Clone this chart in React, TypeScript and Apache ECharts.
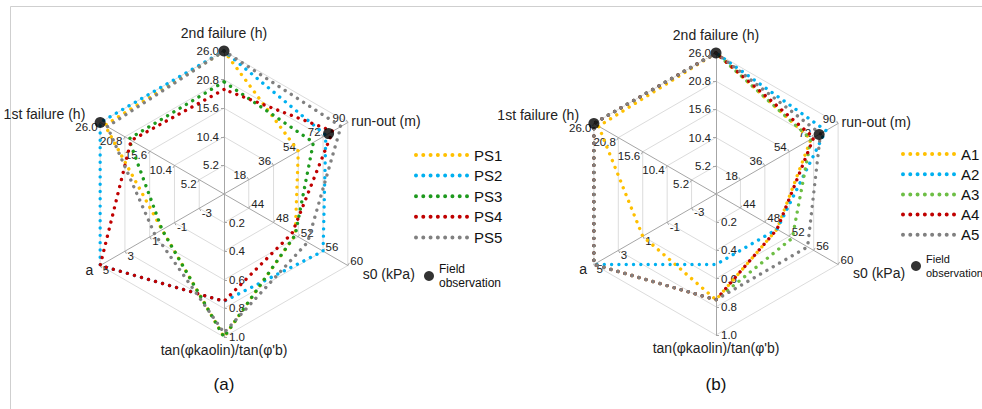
import React, { useEffect, useRef } from "react";
import * as echarts from "echarts";

// Indicators in counter-clockwise order starting at the top
const indicatorNames = ["2nd failure (h)", "1st failure (h)", "a", "tan(φkaolin)/tan(φ'b)", "s0 (kPa)", "run-out (m)"];
const indicatorMin = [0, 0, -5, 0, 40, 0];
const indicatorMax = [26, 26, 5, 1, 60, 90];
const labelDecimals = [1, 1, 0, 1, 0, 0];
const nameGaps = [11, 3, 8, 6, 5, 4];

// Panel (a)
const namesA = ["PS1", "PS2", "PS3", "PS4", "PS5"];
const PS1 = [26, 25, 0, 1.0, 51.5, 54];
const PS2 = [26, 26, 5, 0.75, 56, 74];
const PS3 = [20.4, 20, 0, 1.0, 51.5, 65];
const PS4 = [19, 19.5, 5, 0.75, 51, 79];
const PS5 = [26, 24.5, 0.6, 0.97, 53.5, 85];
const valuesA = [PS1, PS2, PS3, PS4, PS5];
const colorsA = ["#FFC000", "#00B0F0", "#1E9A1E", "#C00000", "#808080"];

// Panel (b)
const namesB = ["A1", "A2", "A3", "A4", "A5"];
const A1 = [26, 25, 1, 0.75, 50, 70];
const A2 = [26, 26, 5, 0.5, 50, 81];
const A3 = [26, 26, 5, 0.75, 52.5, 70];
const A4 = [26, 26, 5, 0.75, 50, 72];
const A5 = [26, 26, 5, 0.75, 55, 77];
const valuesB = [A1, A2, A3, A4, A5];
const colorsB = ["#FFC000", "#00B0F0", "#6DBE45", "#C00000", "#808080"];

// Field observation (only three axes observed)
const fieldAxes = [0, 1, 5];
const fieldValues = [26, 26, 76];

const dotsIcon = (() => {
  let d = "path://";
  for (let k = 0; k < 8; k++) {
    const cx = 2 + k * 7.3;
    d += `M${cx - 2},2a2,2 0 1,0 4,0a2,2 0 1,0 -4,0`;
  }
  return d;
})();

function radarCfg(center: number[], radius: number) {
  return {
    center,
    radius,
    startAngle: 90,
    shape: "polygon",
    splitNumber: 5,
    indicator: indicatorNames.map((name, i) => ({
      name,
      min: indicatorMin[i],
      max: indicatorMax[i],
      nameGap: nameGaps[i],
      axisLabel: { formatter: (v: number) => Number(v).toFixed(labelDecimals[i]) },
    })),
    axisName: { color: "#222", fontSize: 14, fontFamily: "Liberation Sans" },
    nameGap: 6,
    axisLine: { lineStyle: { color: "#a6a6a6", width: 1 } },
    splitLine: { lineStyle: { color: "#dcdcdc", width: 1 } },
    splitArea: { show: false },
    axisTick: { show: true, length: 3, lineStyle: { color: "#a6a6a6" } },
    axisLabel: {
      show: true,
      showMinLabel: false,
      color: "#222",
      fontSize: 11.5,
      fontFamily: "Liberation Sans",
      margin: 5,
    },
  };
}

function radarSeries(names: string[], values: number[][], colors: string[], radarIndex: number) {
  return names.map((n, k) => {
    const ls = { color: colors[k], width: 3.4, type: [0.01, 7.3], cap: "round" };
    return {
      type: "radar",
      name: n,
      radarIndex,
      symbol: "none",
      itemStyle: { color: colors[k] },
      lineStyle: ls,
      data: [{ value: values[k], name: n, itemStyle: { color: colors[k] }, lineStyle: ls }],
      z: 2 + k,
    };
  });
}

function fieldSeries(polarIndex: number) {
  return {
    type: "scatter",
    name: "Field observation",
    coordinateSystem: "polar",
    polarIndex,
    symbol: "circle",
    symbolSize: 11,
    itemStyle: { color: "#000" },
    z: 20,
    data: fieldAxes.map((ax, k) => [
      (fieldValues[k] - indicatorMin[ax]) / (indicatorMax[ax] - indicatorMin[ax]),
      ax,
    ]),
  };
}

const centerA = [224, 194];
const centerB = [716, 194];

export default function App() {
  const ref = useRef<HTMLDivElement>(null);
  useEffect(() => {
    if (!ref.current) return;
    const chart = echarts.init(ref.current, null, { renderer: "svg" });
    const legendText = { color: "#111", fontSize: 15, fontFamily: "Liberation Sans", lineHeight: 18 };
    const fieldTextA = { color: "#111", fontSize: 12, fontFamily: "Liberation Sans", lineHeight: 14 };
    const fieldTextB = { color: "#111", fontSize: 11, fontFamily: "Liberation Sans", lineHeight: 14 };
    const hiddenAngle = (i: number) => ({
      polarIndex: i, type: "value", min: 0, max: 6, startAngle: 90, clockwise: false,
      show: false, axisLine: { show: false }, splitLine: { show: false }, axisLabel: { show: false }, axisTick: { show: false },
    });
    const hiddenRadius = (i: number) => ({
      polarIndex: i, type: "value", min: 0, max: 1, show: false,
      axisLine: { show: false }, splitLine: { show: false }, axisLabel: { show: false }, axisTick: { show: false },
    });
    chart.setOption({
      animation: false,
      backgroundColor: "#fff",
      radar: [radarCfg(centerA, 143), radarCfg(centerB, 141)],
      polar: [{ center: centerA, radius: 143 }, { center: centerB, radius: 141 }],
      angleAxis: [hiddenAngle(0), hiddenAngle(1)],
      radiusAxis: [hiddenRadius(0), hiddenRadius(1)],
      legend: [
        {
          data: namesA, orient: "vertical", left: 409, top: 141, itemWidth: 55, itemHeight: 4,
          itemGap: 2.6, icon: dotsIcon, textStyle: legendText, selectedMode: false,
        },
        {
          data: ["Field observation"], orient: "vertical", left: 419, top: 257, itemWidth: 10, itemHeight: 10,
          icon: "circle", textStyle: fieldTextA, selectedMode: false,
          formatter: () => "Field\nobservation",
        },
        {
          data: namesB, orient: "vertical", left: 896, top: 140, itemWidth: 55, itemHeight: 4,
          itemGap: 2.2, icon: dotsIcon, textStyle: legendText, selectedMode: false,
        },
        {
          data: ["Field observation"], orient: "vertical", left: 906, top: 247, itemWidth: 10, itemHeight: 10,
          icon: "circle", textStyle: fieldTextB, selectedMode: false,
          formatter: () => "Field\nobservation",
        },
      ],
      series: [
        ...radarSeries(namesA, valuesA, colorsA, 0),
        ...radarSeries(namesB, valuesB, colorsB, 1),
        fieldSeries(0),
        fieldSeries(1),
      ],
      graphic: [
        {
          type: "rect", silent: true, z: -1,
          shape: { x: 10.5, y: 6.5, width: 1200, height: 600 },
          style: { fill: "none", stroke: "#cfcfcf", lineWidth: 1 },
        },
        {
          type: "text", x: centerA[0], y: 384,
          style: { text: "(a)", fontSize: 17, fontFamily: "Liberation Sans", fill: "#111", align: "center", verticalAlign: "middle" },
        },
        {
          type: "text", x: centerB[0], y: 384,
          style: { text: "(b)", fontSize: 17, fontFamily: "Liberation Sans", fill: "#111", align: "center", verticalAlign: "middle" },
        },
      ],
    });
    return () => chart.dispose();
  }, []);
  return (
    <div
      ref={ref}
      style={{ position: "fixed", left: 0, top: 0, width: 982, height: 409, background: "#fff" }}
    />
  );
}
